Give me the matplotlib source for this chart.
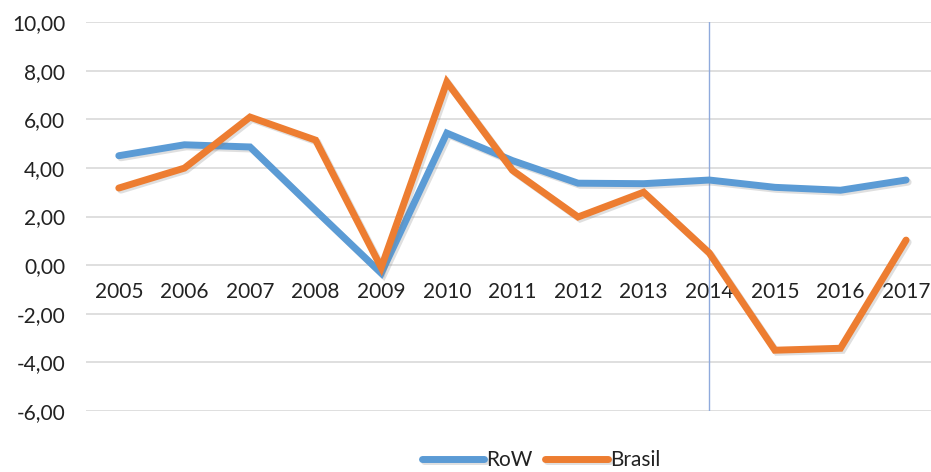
import numpy as np
import matplotlib
matplotlib.use('Agg')
import matplotlib.pyplot as plt
import matplotlib.patheffects as pe

anos = ['2005', '2006', '2007', '2008', '2009', '2010', '2011',
        '2012', '2013', '2014', '2015', '2016', '2017']
row = [4.50, 4.95, 4.86, 2.25, -0.33, 5.43, 4.30, 3.37, 3.35, 3.50, 3.20, 3.08, 3.50]
brasil = [3.17, 3.99, 6.09, 5.14, -0.10, 7.53, 3.90, 1.98, 3.00, 0.50, -3.50, -3.42, 1.03]
marco = '2014'

plt.rcParams['font.family'] = ['Lato', 'DejaVu Sans']

fig = plt.figure(figsize=(9.31, 4.72), dpi=100)
ax = fig.add_axes([86 / 931, 61 / 472, 845 / 931, 389 / 472])

x = np.arange(len(anos))
sombra = [pe.SimpleLineShadow(offset=(1.5, -1.5), shadow_color='gray', alpha=0.25), pe.Normal()]
ax.plot(x, row, color='#5B9BD5', lw=5, label='RoW', solid_capstyle='round',
        solid_joinstyle='miter', path_effects=sombra, zorder=3)
ax.plot(x, brasil, color='#ED7D31', lw=5, label='Brasil', solid_capstyle='round',
        solid_joinstyle='miter', path_effects=sombra, zorder=4)

ax.set_ylim(-6, 10)
ax.set_xlim(-0.5, 12.38)
ax.set_yticks(np.arange(-6, 11, 2))
ax.set_yticklabels([f'{v:.2f}'.replace('.', ',') for v in np.arange(-6, 11, 2)])
ax.yaxis.grid(True, color='#D9D9D9', lw=1.2)
ax.set_axisbelow(True)

i = anos.index(marco)
ax.plot([i, i], [-6, 10], color='#8FAADC', lw=1, zorder=2)

ax.set_xticks(x)
ax.set_xticklabels(anos)
ax.spines['bottom'].set_position(('data', 0))
for s in ax.spines.values():
    s.set_visible(False)
ax.tick_params(axis='both', length=0, labelsize=15, colors='#222222')
ax.tick_params(axis='x', pad=12)
ax.tick_params(axis='y', pad=15)

ax.legend(loc='center', bbox_to_anchor=(541 / 931, 12 / 472), bbox_transform=fig.transFigure,
          ncol=2, frameon=False, fontsize=15, handlelength=3, handletextpad=0.1,
          columnspacing=0.6, labelcolor='#222222')

plt.savefig('out.png', dpi=100)
